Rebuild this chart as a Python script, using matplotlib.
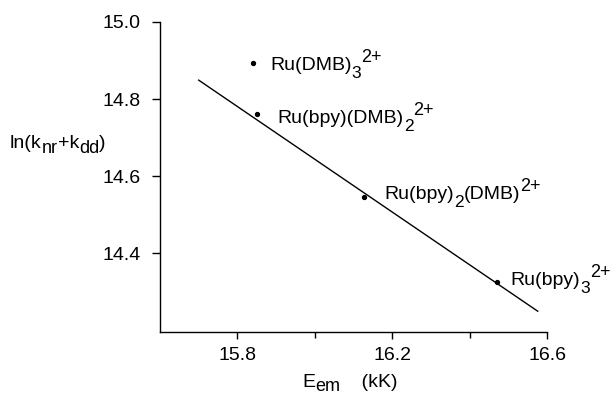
import matplotlib
matplotlib.use("Agg")
import matplotlib.pyplot as plt
from matplotlib.transforms import IdentityTransform

plt.rcParams['font.family'] = ['Liberation Sans', 'DejaVu Sans']

# data
E_em = [15.84, 15.85, 16.126, 16.47]
ln_k = [14.894, 14.761, 14.545, 14.325]
# label pieces: (text, kind) kind 0 = normal, -1 = subscript, 1 = superscript
labels = [
    [('Ru(DMB)', 0), ('3', -1), ('2+', 1)],
    [('Ru(bpy)(DMB)', 0), ('2', -1), ('2+', 1)],
    [('Ru(bpy)', 0), ('2', -1), ('(DMB)', 0), ('2+', 1)],
    [('Ru(bpy)', 0), ('3', -1), ('2+', 1)],
]
label_offsets = [(17, -7), (21, -9), (21, -2), (14, -3)]
fit_x = [15.70, 16.576]
fit_y = [14.849, 14.249]
xticks = [15.8, 16.2, 16.6]
minor_xticks = [16.0, 16.4]
yticks = [14.4, 14.6, 14.8, 15.0]

W, H = 611, 394
fig = plt.figure(figsize=(W / 100, H / 100), dpi=100)
ax = fig.add_axes([160/W, 1-332/H, (547-160)/W, (332-22)/H])

ax.plot(fit_x, fit_y, color='black', lw=1.0)
ax.scatter(E_em, ln_k, s=8, color='black', zorder=3)

ax.set_xlim(15.6, 16.6)
ax.set_ylim(14.195, 15.0)
ax.set_xticks(xticks)
ax.set_xticks(minor_xticks, minor=True)
ax.set_yticks(yticks)
ax.set_xticklabels([f'{v:.1f}' for v in xticks])
ax.set_yticklabels([f'{v:.1f}' for v in yticks])
ax.tick_params(axis='both', which='both', direction='out', labelsize=14, width=1.0)
ax.tick_params(axis='x', which='major', length=5, pad=6)
ax.tick_params(axis='x', which='minor', length=4)
ax.tick_params(axis='y', length=6, pad=8)
for s in ['top', 'right']:
    ax.spines[s].set_visible(False)
for s in ['left', 'bottom']:
    ax.spines[s].set_linewidth(1.0)

renderer = fig.canvas.get_renderer()


def rich_text(x0, y0, pieces, sizes, shifts, gap=0):
    """Place text pieces left-to-right starting at display pixel (x0, y0 baseline)."""
    x = x0
    for txt, kind in pieces:
        t = fig.text(x, y0 + shifts[kind], txt, fontsize=sizes[kind],
                     ha='left', va='baseline', transform=IdentityTransform())
        bb = t.get_window_extent(renderer=renderer)
        x = bb.x1 + gap


lab_sizes = {0: 14, -1: 12.5, 1: 13}
lab_shifts = {0: 0, -1: -8, 1: 8}
for xv, yv, pieces, (dx, dy) in zip(E_em, ln_k, labels, label_offsets):
    px, py = ax.transData.transform((xv, yv))
    rich_text(px + dx, py + dy, pieces, lab_sizes, lab_shifts)

# axis titles
rich_text(10, H - 148, [('ln(k', 0), ('nr', -1), ('+k', 0), ('dd', -1), (')', 0)],
          {0: 14, -1: 13}, {0: 0, -1: -5}, gap=0)
rich_text(302, H - 387, [('E', 0), ('em', -1), ('    (kK)', 0)],
          {0: 14, -1: 13}, {0: 0, -1: -4}, gap=0)

fig.savefig('out.png', dpi=100)
